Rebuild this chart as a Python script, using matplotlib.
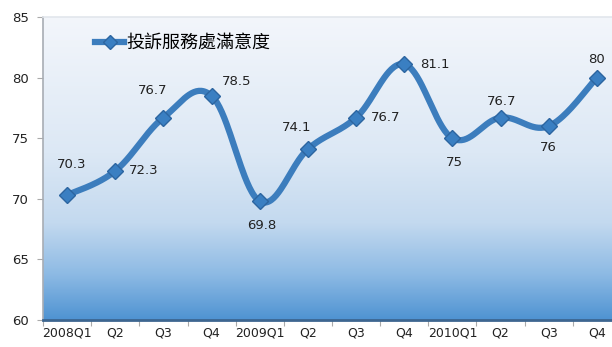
import numpy as np
import matplotlib
matplotlib.use("Agg")
import matplotlib.pyplot as plt
from matplotlib.colors import LinearSegmentedColormap
from matplotlib.lines import Line2D

plt.rcParams['font.family'] = ['DejaVu Sans', 'Noto Sans CJK TC']

# Quarterly satisfaction scores
quarters = ["2008Q1", "Q2", "Q3", "Q4", "2009Q1", "Q2", "Q3", "Q4",
            "2010Q1", "Q2", "Q3", "Q4"]
scores = [70.3, 72.3, 76.7, 78.5, 69.8, 74.1, 76.7, 81.1, 75, 76.7, 76, 80]
series_name = "投訴服務處滿意度"
yticks = [60, 65, 70, 75, 80, 85]

# label offsets in pixels (dx, dy) relative to each point
label_offsets = [(5, 31), (28, 0), (-11, 27), (25, 14), (2, -24), (-11, 22),
                 (30, 0), (31, 0), (2, -24), (1, 16), (0, -21), (0, 18)]

LINE = "#3c7dbd"
MARK = "#3a7fc2"
MARK_EDGE = "#2c65a0"

fig = plt.figure(figsize=(6.12, 3.47), dpi=100)
fig.patch.set_facecolor("white")
ax = fig.add_axes([43 / 612, 27 / 347, 578 / 612, 303 / 347])

x = np.arange(len(scores), dtype=float)
y = np.array(scores, dtype=float)


def smooth(xp, yp, n=40, k=5.5):
    """Cubic Bezier smoothing with Catmull-Rom style control points."""
    px = np.concatenate([[xp[0]], xp, [xp[-1]]])
    py = np.concatenate([[yp[0]], yp, [yp[-1]]])
    xs, ys = [], []
    t = np.linspace(0, 1, n)
    for i in range(1, len(px) - 2):
        p0 = np.array([px[i], py[i]])
        p3 = np.array([px[i + 1], py[i + 1]])
        c1 = p0 + (np.array([px[i + 1], py[i + 1]]) - np.array([px[i - 1], py[i - 1]])) / k
        c2 = p3 - (np.array([px[i + 2], py[i + 2]]) - np.array([px[i], py[i]])) / k
        b = ((1 - t) ** 3)[:, None] * p0 + (3 * (1 - t) ** 2 * t)[:, None] * c1 \
            + (3 * (1 - t) * t ** 2)[:, None] * c2 + (t ** 3)[:, None] * p3
        xs.append(b[:, 0])
        ys.append(b[:, 1])
    return np.concatenate(xs), np.concatenate(ys)


ax.set_xlim(-0.5, len(scores) - 0.5)
ax.set_ylim(60, 85)

# vertical gradient background of the plot area
cmap = LinearSegmentedColormap.from_list(
    "bg", [(0.0, "#4f93d2"), (0.15, "#8dbae4"), (0.32, "#c3d9ef"),
           (0.55, "#dce8f5"), (1.0, "#f3f6fb")])
grad = np.linspace(0, 1, 256)[:, None]
ax.imshow(grad, aspect="auto", cmap=cmap, origin="lower",
          extent=[-0.5, len(scores) - 0.5, 60, 85], zorder=0)

sx, sy = smooth(x, y)
ax.plot(sx, sy, color=LINE, lw=4.5, solid_capstyle="round", zorder=3)
ax.plot(x, y, linestyle="none", marker="D", ms=8, mfc=MARK, mec=MARK_EDGE,
        mew=1.0, zorder=4)

for xi, yi, (dx, dy) in zip(x, y, label_offsets):
    ax.annotate(f"{yi:g}", (xi, yi), xytext=(dx, dy), textcoords="offset pixels",
                ha="center", va="center", fontsize=9.5, color="#222222", zorder=5)

# axes styling
ax.set_yticks(yticks)
ax.set_yticklabels([str(v) for v in yticks], fontsize=9.5, color="#222222")
ax.set_xticks(np.arange(-0.5, len(scores), 1.0))
ax.set_xticklabels([])
ax.set_xticks(x, minor=True)
ax.set_xticklabels(quarters, minor=True, fontsize=9, color="#222222")
ax.tick_params(axis="x", which="minor", length=0, pad=5)
ax.tick_params(axis="x", which="major", length=4, color="#aaaaaa", direction="out")
ax.tick_params(axis="y", length=4, color="#aaaaaa", direction="out", pad=6)

ax.spines["right"].set_visible(False)
ax.spines["top"].set_color("#e2e6ec")
ax.spines["top"].set_linewidth(1.2)
ax.spines["left"].set_color("#a8adb4")
ax.spines["left"].set_linewidth(1.2)
ax.spines["bottom"].set_color("#3d6690")
ax.spines["bottom"].set_linewidth(2)

handle = Line2D([], [], color=LINE, lw=4.5, marker="D", ms=7, mfc=MARK, mec=MARK_EDGE)
ax.legend([handle], [series_name], loc="center left",
          bbox_to_anchor=(88 / 612, 1 - 43 / 347), bbox_transform=fig.transFigure,
          frameon=False, handlelength=1.6, handletextpad=0.15, borderaxespad=0,
          prop={"family": ["Noto Sans CJK TC"], "size": 13})

fig.savefig("out.png", dpi=100, facecolor="white")
